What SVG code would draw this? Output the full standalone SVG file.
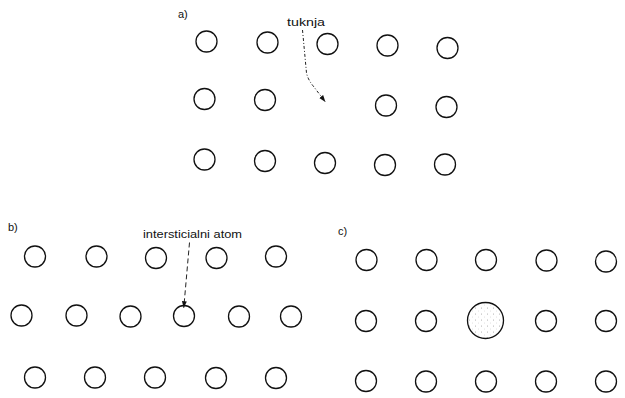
<svg xmlns="http://www.w3.org/2000/svg" width="625" height="398" viewBox="0 0 625 398">
<defs>
<style>
.a{fill:none;stroke:#111;stroke-width:1.3}
.t{font-family:"Liberation Sans",Arial,sans-serif;font-size:11.5px;fill:#111}
.lb{font-family:"Liberation Sans",Arial,sans-serif;font-size:11px;fill:#111}
.c{fill:none;stroke:#222;stroke-width:1}
</style>
<pattern id="dots" width="6" height="6" patternUnits="userSpaceOnUse">
<rect width="6" height="6" fill="#fff"/>
<circle cx="1.5" cy="2" r="0.5" fill="#999"/>
<circle cx="4.5" cy="5" r="0.4" fill="#bbb"/>
</pattern>
<marker id="ah" viewBox="0 0 10 10" refX="9" refY="5" markerWidth="7" markerHeight="7" orient="auto" markerUnits="userSpaceOnUse">
<path d="M0,1.5 L10,5 L0,8.5 Z" fill="#111"/>
</marker>
</defs>
<rect width="625" height="398" fill="#fff"/>

<g id="panel-a">
<text class="lb" x="178" y="18">a)</text>
<g id="a-atoms">
<circle class="a" cx="206.5" cy="41.5" r="10.5"/>
<circle class="a" cx="267.5" cy="42.5" r="10.5"/>
<circle class="a" cx="327.5" cy="44" r="10.5"/>
<circle class="a" cx="387.5" cy="45.5" r="10.5"/>
<circle class="a" cx="447.5" cy="48" r="10.5"/>
<circle class="a" cx="204.5" cy="99" r="10.5"/>
<circle class="a" cx="265" cy="100" r="10.5"/>
<circle class="a" cx="386" cy="105.5" r="10.5"/>
<circle class="a" cx="446.5" cy="107" r="10.5"/>
<circle class="a" cx="204.5" cy="159.5" r="10.5"/>
<circle class="a" cx="265" cy="161" r="10.5"/>
<circle class="a" cx="325" cy="163" r="10.5"/>
<circle class="a" cx="385" cy="165" r="10.5"/>
<circle class="a" cx="445" cy="164.5" r="10.5"/>
</g>
<text class="t" x="287" y="26" textLength="38" lengthAdjust="spacingAndGlyphs">tuknja</text>
</g>

<g id="panel-b">
<text class="lb" x="8" y="231">b)</text>
<g id="b-atoms">
<circle class="a" cx="35" cy="256.5" r="10.5"/>
<circle class="a" cx="96.5" cy="256.5" r="10.5"/>
<circle class="a" cx="156" cy="258" r="10.5"/>
<circle class="a" cx="216.5" cy="258" r="10.5"/>
<circle class="a" cx="276" cy="256.5" r="10.5"/>
<circle class="a" cx="21.5" cy="315.5" r="10.5"/>
<circle class="a" cx="76.5" cy="315.5" r="10.5"/>
<circle class="a" cx="130.5" cy="316.5" r="10.5"/>
<circle class="a" cx="184" cy="316" r="10.5"/>
<circle class="a" cx="239" cy="316.5" r="10.5"/>
<circle class="a" cx="291" cy="316.5" r="10.5"/>
<circle class="a" cx="35" cy="377.5" r="10.5"/>
<circle class="a" cx="95" cy="377.5" r="10.5"/>
<circle class="a" cx="155" cy="377.5" r="10.5"/>
<circle class="a" cx="216" cy="378" r="10.5"/>
<circle class="a" cx="276" cy="378" r="10.5"/>
</g>
<text class="t" x="143" y="238" textLength="99" lengthAdjust="spacingAndGlyphs">intersticialni atom</text>
</g>

<g id="panel-c">
<text class="lb" x="338" y="235">c)</text>
<g id="c-atoms">
<circle class="a" cx="366.5" cy="260" r="10.5"/>
<circle class="a" cx="426.5" cy="260" r="10.5"/>
<circle class="a" cx="486" cy="260" r="10.5"/>
<circle class="a" cx="546.5" cy="260.5" r="10.5"/>
<circle class="a" cx="606" cy="261.5" r="10.5"/>
<circle class="a" cx="366" cy="321" r="10.5"/>
<circle class="a" cx="426" cy="321" r="10.5"/>
<circle id="substitution-atom" class="a" cx="485.5" cy="320.5" r="18" style="fill:url(#dots)"/>
<circle class="a" cx="546" cy="321" r="10.5"/>
<circle class="a" cx="606" cy="321" r="10.5"/>
<circle class="a" cx="366" cy="381" r="10.5"/>
<circle class="a" cx="426" cy="381.5" r="10.5"/>
<circle class="a" cx="486" cy="381.5" r="10.5"/>
<circle class="a" cx="546" cy="381.5" r="10.5"/>
<circle class="a" cx="606" cy="381.5" r="10.5"/>
</g>
</g>

<g id="connectors">
<path class="c" d="M302.5,30 L306.5,73 Q308,80 314,87 L325,101.5" stroke-dasharray="3,2,1,2" marker-end="url(#ah)"/>
<path class="c" d="M189.5,242.5 L183.8,307.5" stroke-dasharray="5,3" marker-end="url(#ah)"/>
</g>
</svg>
